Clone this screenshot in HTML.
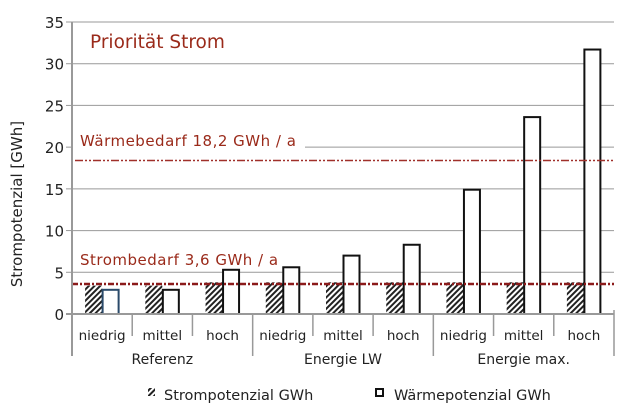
<!DOCTYPE html>
<html><head><meta charset="utf-8"><style>
body{margin:0;background:#fff;}
svg text{font-family:"DejaVu Sans","Liberation Sans",sans-serif;}
</style></head><body>
<svg id="c" width="630" height="413" xmlns="http://www.w3.org/2000/svg">
<defs><pattern id="hatch" width="4" height="4" patternUnits="userSpaceOnUse" patternTransform="rotate(45)"><rect width="4" height="4" fill="#fff"/><rect width="2" height="4" fill="#222"/></pattern></defs>
<g id="grid"></g><g id="bars"></g><g id="axes"></g>
</svg>
<script>
const categories=["niedrig","mittel","hoch","niedrig","mittel","hoch","niedrig","mittel","hoch"];
const groups=["Referenz","Energie LW","Energie max."];
const strom=[3.4,3.4,3.8,3.8,3.8,3.8,3.8,3.8,3.8];
const waerme=[2.9,2.9,5.3,5.6,7.0,8.3,14.9,23.6,31.7];
const yTicks=[0,5,10,15,20,25,30,35];
const waermeBedarf=18.4, stromBedarf=3.6;
const NS="http://www.w3.org/2000/svg";
const x0=72,x1=614,y0=314,yTop=22,yMax=35;
const y=v=>y0-(y0-yTop)*v/yMax;
const cw=(x1-x0)/categories.length;
const cx=i=>x0+cw*(i+0.5);
function mk(t,a,p){const e=document.createElementNS(NS,t);for(const k in a)e.setAttribute(k,a[k]);(p||document.getElementById('c')).appendChild(e);return e;}
const grid=document.getElementById('grid'),bars=document.getElementById('bars'),axes=document.getElementById('axes');
yTicks.forEach(v=>{
 if(v>0){const g=mk('line',{x1:v===20?305:x0,x2:x1,y1:y(v),y2:y(v),stroke:'#999','stroke-width':1},grid);
 
 }
 const tl=mk('line',{x1:x0-6,x2:x0,y1:y(v),y2:y(v),stroke:'#999'},axes);
 
 
 const t=mk('text',{x:x0-8,y:y(v)+6,'text-anchor':'end','font-size':15,fill:'#222'},axes);t.textContent=v;
 
 
});
categories.forEach((c,i)=>{
 const bs=mk('rect',{x:cx(i)-17,y:y(strom[i]),width:17,height:y0-y(strom[i]),fill:'url(#hatch)'},bars);
 
 
 const bw=mk('rect',{x:cx(i)+0.5,y:y(waerme[i]),width:16,height:y0-y(waerme[i]),fill:'#fff',stroke:i<1?'#2a4a6a':'#111','stroke-width':2},bars);
 
 
 const t=mk('text',{x:cx(i),y:340,'text-anchor':'middle','font-size':13.5,fill:'#222'},axes);t.textContent=c;
 
 
 if(i>0){const s=mk('line',{x1:x0+cw*i,x2:x0+cw*i,y1:y0,y2:i%3===0?356:336,stroke:'#999','stroke-width':1.5},axes);
 
 }
});
groups.forEach((g,j)=>{const t=mk('text',{x:x0+cw*(3*j+1.5),y:364,'text-anchor':'middle','font-size':14,fill:'#222'},axes);t.textContent=g;
 
 });
const wl=mk('line',{x1:x0+3,x2:x1,y1:y(waermeBedarf),y2:y(waermeBedarf),stroke:'#a0302a','stroke-width':1.5,'stroke-dasharray':'8 2 2 2 2 2'},axes);


const sl=mk('line',{x1:x0,x2:x1,y1:y(stromBedarf),y2:y(stromBedarf),stroke:'#8b1a1a','stroke-width':2.5,'stroke-dasharray':'6 2 2 2'},axes);


const ax=mk('line',{x1:x0,x2:x0,y1:yTop,y2:356,stroke:'#999','stroke-width':2},axes);


const ax2=mk('line',{x1:x0-6,x2:x1,y1:y0,y2:y0,stroke:'#999','stroke-width':2},axes);


const ax3=mk('line',{x1:x1,x2:x1,y1:y0-4,y2:356,stroke:'#999','stroke-width':1.5},axes);


function txt(s,a,n){const t=mk('text',a,axes);t.textContent=s;return t;}
txt('Priorität Strom',{x:90,y:48,'font-size':18.5,fill:'#9a2a1a'},'chart-title');
txt('Wärmebedarf 18,2 GWh / a',{x:80,y:146,'font-size':15,fill:'#9a2a1a','letter-spacing':'0.5'},'waermebedarf-label');
txt('Strombedarf 3,6 GWh / a',{x:80,y:265,'font-size':15,fill:'#9a2a1a','letter-spacing':'0.5'},'strombedarf-label');
txt('Strompotenzial [GWh]',{x:0,y:0,'font-size':15,fill:'#222','text-anchor':'middle',transform:'translate(22,204) rotate(-90)'},'y-axis-title');
const l1=mk('rect',{x:148,y:388,width:7,height:8,fill:'url(#hatch)'},axes);


txt('Strompotenzial GWh',{x:164,y:400,'font-size':14.5,fill:'#222'},'legend-strom');
const l2=mk('rect',{x:376,y:389,width:7,height:7,fill:'#fff',stroke:'#111','stroke-width':2},axes);


txt('Wärmepotenzial GWh',{x:394,y:400,'font-size':14.5,fill:'#222'},'legend-waerme');
</script>
</body></html>
